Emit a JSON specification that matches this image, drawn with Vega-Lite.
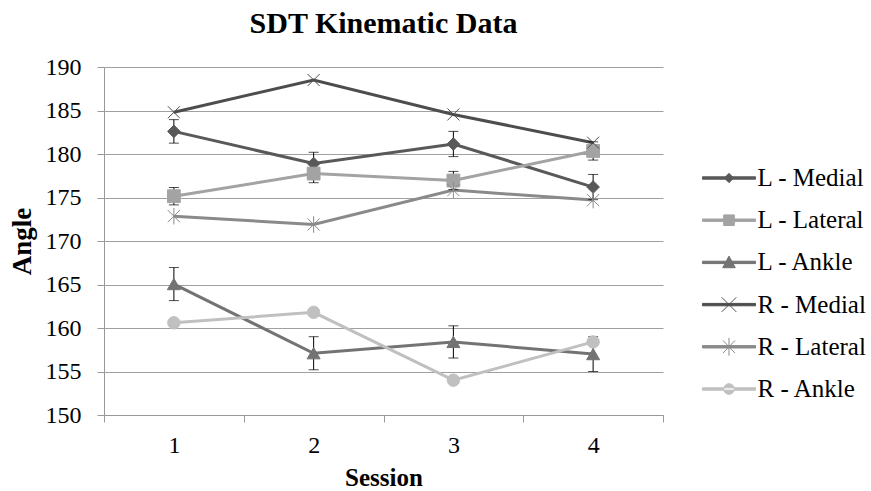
{
  "$schema": "https://vega.github.io/schema/vega-lite/v6.json",
  "width": 559,
  "height": 348,
  "autosize": {"type": "none"},
  "padding": {"left": 104, "top": 67, "right": 208, "bottom": 76},
  "background": "white",
  "config": {
    "font": "Liberation Serif, Times New Roman, serif",
    "view": {"stroke": null},
    "axis": {
      "domainColor": "#989898",
      "tickColor": "#989898",
      "gridColor": "#a0a0a0",
      "labelColor": "black",
      "titleColor": "black",
      "labelFont": "Liberation Serif, Times New Roman, serif",
      "titleFont": "Liberation Serif, Times New Roman, serif"
    },
    "legend": {
      "labelFont": "Liberation Serif, Times New Roman, serif"
    }
  },
  "title": {
    "text": "SDT Kinematic Data",
    "font": "Liberation Serif, Times New Roman, serif",
    "fontSize": 30,
    "fontWeight": "bold",
    "color": "black",
    "anchor": "middle",
    "offset": 16
  },
  "data": {
    "values": [
      {"session": 1, "series": "L - Medial", "angle": 182.6, "err": 1.35},
      {"session": 2, "series": "L - Medial", "angle": 178.9, "err": 1.3},
      {"session": 3, "series": "L - Medial", "angle": 181.15, "err": 1.45},
      {"session": 4, "series": "L - Medial", "angle": 176.2, "err": 1.45},
      {"session": 1, "series": "L - Lateral", "angle": 175.15, "err": 1.0},
      {"session": 2, "series": "L - Lateral", "angle": 177.75, "err": 1.05},
      {"session": 3, "series": "L - Lateral", "angle": 176.95, "err": 1.05},
      {"session": 4, "series": "L - Lateral", "angle": 180.35, "err": 1.05},
      {"session": 1, "series": "L - Ankle", "angle": 165.05, "err": 1.9},
      {"session": 2, "series": "L - Ankle", "angle": 157.1, "err": 1.9},
      {"session": 3, "series": "L - Ankle", "angle": 158.4, "err": 1.85},
      {"session": 4, "series": "L - Ankle", "angle": 157.0, "err": 2.0},
      {"session": 1, "series": "R - Medial", "angle": 184.8, "err": null},
      {"session": 2, "series": "R - Medial", "angle": 188.5, "err": null},
      {"session": 3, "series": "R - Medial", "angle": 184.55, "err": null},
      {"session": 4, "series": "R - Medial", "angle": 181.3, "err": null},
      {"session": 1, "series": "R - Lateral", "angle": 172.85, "err": null},
      {"session": 2, "series": "R - Lateral", "angle": 171.9, "err": null},
      {"session": 3, "series": "R - Lateral", "angle": 175.85, "err": null},
      {"session": 4, "series": "R - Lateral", "angle": 174.7, "err": null},
      {"session": 1, "series": "R - Ankle", "angle": 160.6, "err": null},
      {"session": 2, "series": "R - Ankle", "angle": 161.8, "err": null},
      {"session": 3, "series": "R - Ankle", "angle": 154.0, "err": null},
      {"session": 4, "series": "R - Ankle", "angle": 158.4, "err": null}
    ]
  },
  "encoding": {
    "x": {
      "field": "session",
      "type": "quantitative",
      "scale": {"domain": [0.5, 4.5], "nice": false, "zero": false},
      "axis": {
        "values": [0.5, 1.5, 2.5, 3.5, 4.5],
        "labelExpr": "datum.value < 4 ? format(datum.value + 0.5, 'd') : ''",
        "labelOffset": 69.9,
        "labelFlush": false,
        "labelOverlap": false,
        "labelFontSize": 24,
        "labelPadding": 11,
        "tickSize": 7,
        "grid": false,
        "title": "Session",
        "titleFontSize": 25,
        "titleFontWeight": "bold",
        "titleBaseline": "alphabetic",
        "titleY": 70
      }
    },
    "y": {
      "field": "angle",
      "type": "quantitative",
      "scale": {"domain": [150, 190], "nice": false, "zero": false},
      "axis": {
        "values": [150, 155, 160, 165, 170, 175, 180, 185, 190],
        "labelFontSize": 24,
        "labelPadding": 16,
        "tickSize": 7,
        "grid": true,
        "title": "Angle",
        "titleFontSize": 27,
        "titleFontWeight": "bold",
        "titleAngle": 270,
        "titleX": -74,
        "titleY": 174,
        "titleAlign": "center",
        "titleBaseline": "alphabetic"
      }
    }
  },
  "layer": [
    {
      "mark": {"type": "line", "strokeWidth": 3},
      "encoding": {
        "color": {
          "field": "series",
          "type": "nominal",
          "scale": {
            "domain": ["L - Medial", "L - Lateral", "L - Ankle", "R - Medial", "R - Lateral", "R - Ankle"],
            "range": ["#595959", "#a3a3a3", "#737373", "#4d4d4d", "#8a8a8a", "#c0c0c0"]
          },
          "legend": {
            "orient": "none",
            "legendX": 592.6,
            "legendY": 98.5,
            "title": null,
            "padding": 0,
            "labelFont": "Liberation Serif, Times New Roman, serif",
            "labelFontSize": 25,
            "labelColor": "black",
            "labelOffset": 36,
            "labelLimit": 0,
            "rowPadding": 16.2,
            "symbolSize": 176,
            "symbolStrokeWidth": 1,
            "encode": {
              "symbols": {
                "update": {
                  "shape": {"signal": "datum.value === 'L - Medial' ? 'M-1,-0.18H7V0.18H-1ZM3,-0.7L3.7,0L3,0.7L2.3,0Z' : datum.value === 'L - Lateral' ? 'M-1,-0.18H7V0.18H-1ZM2.2,-0.8H3.8V0.8H2.2Z' : datum.value === 'L - Ankle' ? 'M-1,-0.18H7V0.18H-1ZM3,-0.95L3.95,0.8H2.05Z' : datum.value === 'R - Medial' ? 'M-1,-0.18H7V0.18H-1ZM1.9,-1.1L4.1,1.1M1.9,1.1L4.1,-1.1' : datum.value === 'R - Lateral' ? 'M-1,-0.18H7V0.18H-1ZM2.1,-0.95L3.9,0.95M2.1,0.95L3.9,-0.95M3,-1.35V1.35' : 'M-1,-0.18H7V0.18H-1ZM2.2,0A0.8,0.8 0 1,0 3.8,0A0.8,0.8 0 1,0 2.2,0Z'"},
                  "fill": {"scale": "color", "field": "value"},
                  "stroke": {"scale": "color", "field": "value"},
                  "strokeWidth": {"value": 1},
                  "size": {"value": 176},
                  "opacity": {"value": 1}
                }
              }
            }
          }
        }
      }
    },
    {
      "transform": [{"filter": "datum.err != null"}],
      "mark": {
        "type": "errorbar",
        "ticks": {"color": "black", "size": 10},
        "rule": {"color": "black"},
        "thickness": 1
      },
      "encoding": {
        "yError": {"field": "err"}
      }
    },
    {
      "mark": {"type": "point", "filled": true, "opacity": 1},
      "encoding": {
        "color": {"field": "series", "type": "nominal", "legend": null},
        "stroke": {
          "field": "series",
          "type": "nominal",
          "legend": null,
          "scale": {
            "domain": ["L - Ankle", "L - Lateral", "L - Medial", "R - Ankle", "R - Lateral", "R - Medial"],
            "range": ["#737373", "#a3a3a3", "#595959", "#c0c0c0", "#8a8a8a", "#4d4d4d"]
          }
        },
        "shape": {
          "field": "series",
          "type": "nominal",
          "legend": null,
          "scale": {
            "domain": ["L - Ankle", "L - Lateral", "L - Medial", "R - Ankle", "R - Lateral", "R - Medial"],
            "range": ["triangle-up", "square", "diamond", "circle", "M-1,-1L1,1M-1,1L1,-1M0,-1.35V1.35", "M-1,-1L1,1M-1,1L1,-1"]
          }
        },
        "size": {
          "field": "series",
          "type": "nominal",
          "legend": null,
          "scale": {
            "domain": ["L - Ankle", "L - Lateral", "L - Medial", "R - Ankle", "R - Lateral", "R - Medial"],
            "range": [169, 144, 130, 130, 144, 196]
          }
        },
        "strokeWidth": {
          "field": "series",
          "type": "nominal",
          "legend": null,
          "scale": {
            "domain": ["L - Ankle", "L - Lateral", "L - Medial", "R - Ankle", "R - Lateral", "R - Medial"],
            "range": [1, 1, 1, 1, 1.5, 1.5]
          }
        }
      }
    }
  ]
}
